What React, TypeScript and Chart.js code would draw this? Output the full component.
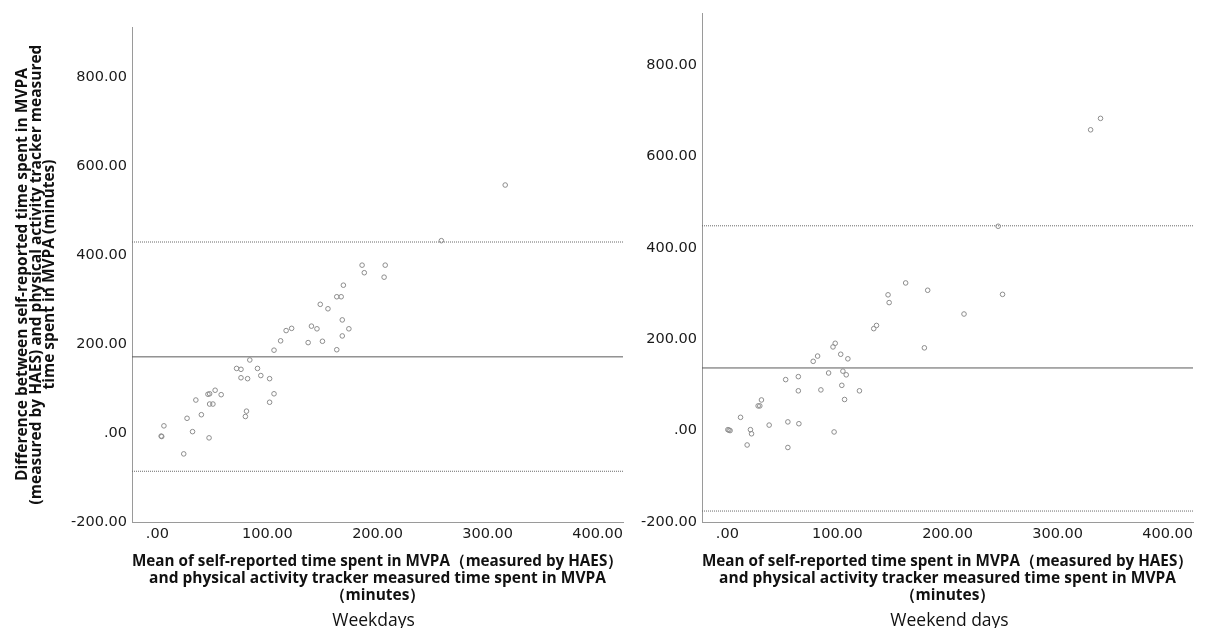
import React, { useEffect, useRef } from "react";
import { Chart, registerables } from "chart.js";

Chart.register(...registerables);

// ---------- data ----------
const weekdayMean = [
  186, 207, 188, 206, 169, 163, 167, 148, 155, 168, 140, 145, 174, 117, 122, 168, 112, 137, 150, 106,
  163, 84, 72, 76, 91, 76, 82, 94, 102, 106, 102, 81, 80, 52.5, 46, 47.5, 58, 47.5, 50.5, 35,
  40, 27, 6, 3.5, 4, 32, 47, 24, 316, 258,
];
const weekdayDiff = [
  377, 377, 360, 350, 332, 306, 306, 289, 279, 254, 240, 234, 234, 230, 235, 218, 207, 203, 206, 186,
  187, 164, 145, 143, 145, 124, 122, 129, 122, 88, 69, 49, 37, 96, 87, 88, 86, 65, 65, 74,
  41, 33, 16, -7, -8, 3, -11, -47, 557, 432,
];
const weekendMean = [
  162, 182, 146, 147, 215, 135.5, 133, 179, 98, 96, 103, 109.5, 82, 78, 92, 105, 108, 64.5, 53, 104,
  85, 64.5, 120, 106.5, 31, 28, 29.5, 12, 38, 55, 65, 21, 22, 0.5, 1.5, 2.5, 97, 18, 55, 339,
  330, 246, 250,
];
const weekendDiff = [
  323, 307, 297, 280, 255, 230, 223, 181, 191, 183, 167, 157, 163, 151.5, 126, 130, 122, 118, 111.5, 99,
  89, 87, 87, 68, 67, 54, 54, 29, 12, 19, 15, 2, -7, 2, 1, 0, -3, -31.5, -37, 683,
  658, 447, 298,
];

const weekdayBias = 171;
const weekdayUpper = 429;
const weekdayLower = -86;
const weekendBias = 137;
const weekendUpper = 448;
const weekendLower = -176;

const xTicks = [0, 100, 200, 300, 400];
const yTicks = [-200, 0, 200, 400, 600, 800];
const xMin = -23;
const xMax = 423;
const yMin = -200;
const yMax = 912;

const yTitle = [
  "Difference between self-reported time spent in MVPA",
  "(measured by HAES) and physical activity tracker measured",
  "time spent in MVPA (minutes)",
];
const xTitle = [
  "Mean of self-reported time spent in MVPA（measured by HAES）",
  "and physical activity tracker measured time spent in MVPA",
  "（minutes）",
];

// ---------- helpers ----------
const fmt = (v: number) => (v === 0 ? ".00" : Number(v).toFixed(2));

const panelLabelPlugin = {
  id: "panelLabel",
  afterDraw(chart: any, _args: any, opts: any) {
    const { ctx, chartArea } = chart;
    ctx.save();
    ctx.font = '17.5px "Open Sans"';
    ctx.fillStyle = "#111";
    ctx.textAlign = "center";
    ctx.textBaseline = "middle";
    ctx.fillText(opts.text, (chartArea.left + chartArea.right) / 2 + (opts.dx || 0), opts.y);
    ctx.restore();
  },
};

type PanelProps = {
  left: number;
  width: number;
  means: number[];
  diffs: number[];
  bias: number;
  upper: number;
  lower: number;
  label: string;
  showYTitle: boolean;
  yAxisWidth: number;
  padTop: number;
  padRight: number;
  labelDx: number;
};

function Panel(p: PanelProps) {
  const ref = useRef<HTMLCanvasElement | null>(null);
  useEffect(() => {
    if (!ref.current) return;
    const points = p.means.map((m, i) => ({ x: m, y: p.diffs[i] }));
    const hline = (y: number) => [
      { x: xMin, y },
      { x: xMax, y },
    ];
    const chart = new Chart(ref.current, {
      type: "scatter",
      data: {
        datasets: [
          {
            data: points,
            pointStyle: "circle",
            pointRadius: 2.3,
            pointBorderWidth: 1,
            pointBorderColor: "#8c8c8c",
            pointBackgroundColor: "rgba(0,0,0,0)",
            showLine: false,
          } as any,
          {
            data: hline(p.bias),
            showLine: true,
            borderColor: "#5a5a5a",
            borderWidth: 1,
            pointRadius: 0,
          } as any,
          {
            data: hline(p.upper),
            showLine: true,
            borderColor: "#6a6a6a",
            borderWidth: 1,
            borderDash: [1, 1],
            pointRadius: 0,
          } as any,
          {
            data: hline(p.lower),
            showLine: true,
            borderColor: "#6a6a6a",
            borderWidth: 1,
            borderDash: [1, 1],
            pointRadius: 0,
          } as any,
        ],
      },
      options: {
        responsive: false,
        animation: false,
        devicePixelRatio: 1,
        layout: { padding: { top: p.padTop, right: p.padRight, left: 0, bottom: 0 } },
        plugins: {
          legend: { display: false },
          tooltip: { enabled: false },
          panelLabel: { text: p.label, y: 621, dx: p.labelDx },
        } as any,
        scales: {
          x: {
            type: "linear",
            min: xMin,
            max: xMax,
            afterBuildTicks: (s: any) => {
              s.ticks = xTicks.map((v) => ({ value: v }));
            },
            afterFit: (s: any) => {
              s.height = 106;
            },
            grid: { display: false, drawTicks: false },
            border: { display: true, color: "#9a9a9a", width: 1 },
            ticks: {
              padding: 4,
              maxRotation: 0,
              autoSkip: false,
              color: "#1a1a1a",
              font: { family: "DejaVu Sans", size: 14.5 },
              callback: (v: any) => fmt(Number(v)),
            },
            title: {
              display: true,
              text: xTitle,
              color: "#111",
              font: { family: "Open Sans", weight: "bold", size: 15.5, lineHeight: 1.1 },
              padding: { top: 0, bottom: 24 },
            },
          },
          y: {
            type: "linear",
            min: yMin,
            max: yMax,
            afterBuildTicks: (s: any) => {
              s.ticks = yTicks.map((v) => ({ value: v }));
            },
            afterFit: (s: any) => {
              s.width = p.yAxisWidth;
            },
            grid: { display: false, drawTicks: false },
            border: { display: true, color: "#9a9a9a", width: 1 },
            ticks: {
              padding: 5,
              color: "#1a1a1a",
              font: { family: "DejaVu Sans", size: 14.5 },
              callback: (v: any) => fmt(Number(v)),
            },
            title: {
              display: p.showYTitle,
              text: yTitle,
              color: "#111",
              font: { family: "Open Sans", weight: "bold", size: 15.5, lineHeight: 0.87 },
              padding: { top: 16, bottom: 0 },
            },
          },
        },
      } as any,
      plugins: [panelLabelPlugin as any],
    });
    return () => chart.destroy();
  }, []);
  return (
    <canvas
      ref={ref}
      width={p.width}
      height={628}
      style={{ position: "absolute", left: p.left, top: 0, width: p.width, height: 628 }}
    />
  );
}

export default function App() {
  return (
    <div style={{ position: "fixed", left: 0, top: 0, width: 1211, height: 628, background: "#fff" }}>
      <Panel
        left={0}
        width={640}
        means={weekdayMean}
        diffs={weekdayDiff}
        bias={weekdayBias}
        upper={weekdayUpper}
        lower={weekdayLower}
        label="Weekdays"
        showYTitle={true}
        yAxisWidth={132}
        padTop={27}
        padRight={17}
        labelDx={-4}
      />
      <Panel
        left={640}
        width={571}
        means={weekendMean}
        diffs={weekendDiff}
        bias={weekendBias}
        upper={weekendUpper}
        lower={weekendLower}
        label="Weekend days"
        showYTitle={false}
        yAxisWidth={62}
        padTop={12}
        padRight={18}
        labelDx={2}
      />
    </div>
  );
}
